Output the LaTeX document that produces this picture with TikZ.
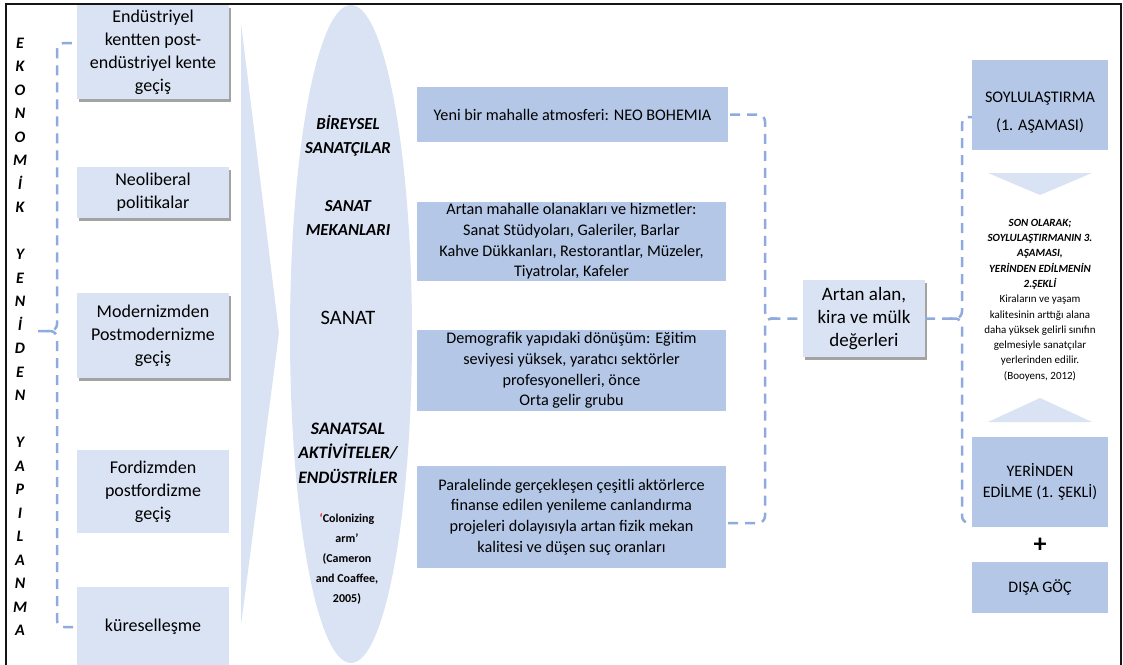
\documentclass[tikz,border=0pt]{standalone}
\usepackage{fontspec}
\setmainfont{Carlito}
\usetikzlibrary{shapes.geometric,shadows}
\definecolor{lightbox}{HTML}{DAE3F3}
\definecolor{midbox}{HTML}{B4C7E7}
\definecolor{dashblue}{HTML}{8FAADC}
\definecolor{framegray}{HTML}{151515}
\begin{document}
\begin{tikzpicture}[x=1pt,y=-1pt,
  lbox/.style={fill=lightbox, align=center, inner sep=0pt, minimum width=152pt,
    font=\fontsize{18}{23}\selectfont},
  shadowed/.style={drop shadow={shadow xshift=2pt, shadow yshift=-2.5pt, opacity=0.45, fill=black!80}},
  mbox/.style={fill=midbox, align=center, inner sep=0pt, minimum width=309pt,
    font=\fontsize{16.2}{20.6}\selectfont},
  rbox/.style={fill=midbox, align=center, inner sep=0pt, minimum width=136pt,
    font=\fontsize{16}{21}\selectfont},
  brace/.style={draw=dashblue, line width=2.5pt, dash pattern=on 10pt off 7pt, rounded corners=7pt},
  bolditalic/.style={font=\fontsize{16.8}{24}\selectfont\bfseries\itshape, align=center},
]
\path[use as bounding box] (0,0) rectangle (1123,664);
\clip (0,0) rectangle (1123,664);

% background shapes: narrow pointer and the tall ellipse
\fill[lightbox] (241,23) -- (279,333) -- (241,625) -- cycle;
\node[ellipse, fill=lightbox, inner sep=0pt, minimum width=122pt, minimum height=658pt] (ell) at (351,334) {};

% left column: the five processes
\node[lbox, shadowed, minimum height=94pt] (b1) at (153,52) {Endüstriyel\\kentten post-\\endüstriyel kente\\geçiş};
\node[lbox, shadowed, minimum height=51pt] (b2) at (153,192.5) {Neoliberal\\politikalar};
\node[lbox, shadowed, minimum height=85pt] (b3) at (153,335.5) {Modernizmden\\Postmodernizme\\geçiş};
\node[lbox, minimum height=83pt] (b4) at (153,491.5) {Fordizmden\\postfordizme\\geçiş};
\node[lbox, minimum height=80pt] (b5) at (153,627) {küreselleşme};

% vertical title
\node[font=\fontsize{16}{23.5}\selectfont\bfseries\itshape, align=center, inner sep=0pt] (vt) at (20,337)
 {E\\K\\O\\N\\O\\M\\İ\\K\\\strut\\Y\\E\\N\\İ\\D\\E\\N\\\strut\\Y\\A\\P\\I\\L\\A\\N\\M\\A};

% labels inside the ellipse
\node[bolditalic] (e1) at (348,136) {BİREYSEL\\SANATÇILAR};
\node[bolditalic] (e2) at (348,218) {SANAT\\MEKANLARI};
\node[font=\fontsize{20.5}{24}\selectfont] (e3) at (348,318) {SANAT};
\node[bolditalic, font=\fontsize{17.5}{24.5}\selectfont\bfseries\itshape] (e4) at (348,453) {SANATSAL\\AKTİVİTELER/\\ENDÜSTRİLER};
\node[font=\fontsize{12}{20}\selectfont\bfseries, align=center] (e5) at (347,559)
 {\textcolor{red}{‘}Colonizing\\arm’\\(Cameron\\and Coaffee,\\2005)};

% middle column: effects
\node[mbox, minimum width=311pt, minimum height=55pt] (m1) at (572.5,114.5) {Yeni bir mahalle atmosferi: NEO BOHEMIA};
\node[mbox, minimum height=79pt] (m2) at (571.5,241.5) {Artan mahalle olanakları ve hizmetler:\\Sanat Stüdyoları, Galeriler, Barlar\\Kahve Dükkanları, Restorantlar, Müzeler,\\Tiyatrolar, Kafeler};
\node[mbox, minimum height=81pt] (m3) at (571.5,370.5) {Demografik yapıdaki dönüşüm: Eğitim\\seviyesi yüksek, yaratıcı sektörler\\profesyonelleri, önce\\Orta gelir grubu};
\node[mbox, minimum height=102pt] (m4) at (571.5,517) {Paralelinde gerçekleşen çeşitli aktörlerce\\finanse edilen yenileme canlandırma\\projeleri dolayısıyla artan fizik mekan\\kalitesi ve düşen suç oranları};

% central result
\node[lbox, shadowed, minimum width=122pt, minimum height=77pt, font=\fontsize{19}{22.7}\selectfont] (a) at (864,318.5) {Artan alan,\\kira ve mülk\\değerleri};

% right column
\node[rbox, minimum height=90pt] (s1) at (1040,105) {};
\node[align=center, inner sep=0pt, font=\fontsize{16.2}{28}\selectfont] (s1t) at (1040,113) {SOYLULAŞTIRMA\\(1. AŞAMASI)};
\fill[lightbox] (988,173) -- (1092,173) -- (1040,195) -- cycle;
\node[align=center, inner sep=0pt, font=\fontsize{11}{15.3}\selectfont] (t1) at (1040,300)
 {\bfseries\itshape SON OLARAK;\\\bfseries\itshape SOYLULAŞTIRMANIN 3.\\\bfseries\itshape AŞAMASI,\\\bfseries\itshape YERİNDEN EDİLMENİN\\\bfseries\itshape 2.ŞEKLİ\\\mdseries\upshape Kiraların ve yaşam\\kalitesinin arttığı alana\\daha yüksek gelirli sınıfın\\gelmesiyle sanatçılar\\yerlerinden edilir.\\(Booyens, 2012)};
\fill[lightbox] (988,422) -- (1092,422) -- (1040,398) -- cycle;
\node[rbox, minimum height=90pt] (y1) at (1040,482) {YERİNDEN\\EDİLME (1. ŞEKLİ)};
\node[font=\fontsize{26}{28}\selectfont\bfseries] (plus) at (1040,545) {+};
\node[rbox, minimum height=51pt] (d1) at (1040,587.5) {DIŞA GÖÇ};

% dashed braces
\coordinate (lmid) at (57,331);
\coordinate (ltip) at (38,331);
\draw[brace] ([xshift=-5pt,yshift=9pt]b1.west) -| (lmid) -- (ltip);
\draw[brace] ([xshift=-10pt]lmid) -- (lmid) |- ([xshift=-3pt]b5.west);

\coordinate (mmid) at (765,318.5);
\draw[brace] ([xshift=2pt]m1.east) -| (mmid) -- (a.west);
\draw[brace] ([xshift=2pt,yshift=-6pt]m4.east) -| (mmid) -- ++(12,0);

\coordinate (rmid) at (962,318.5);
\draw[brace] (a.east) -- (rmid) |- ([yshift=-12pt]s1.west);
\draw[brace] ([xshift=-12pt]rmid) -- (rmid) |- ([yshift=-41pt]y1.west);

% frame
\draw[framegray, line width=2.2pt] (6,4) rectangle (1121,700);
\end{tikzpicture}
\end{document}
